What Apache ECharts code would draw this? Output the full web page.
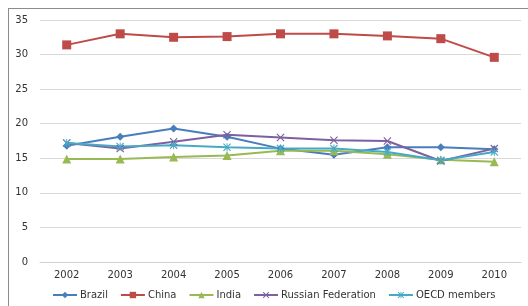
<!DOCTYPE html>
<html lang="en">
<head>
    <meta charset="UTF-8">
    <title>Line chart</title>
    <script src="https://cdn.jsdelivr.net/npm/echarts@6/dist/echarts.min.js"></script>
    <style>
        * { padding: 0; margin: 0; }
        html, body { width: 528px; height: 306px; background: #fff; }
        #chart { width: 528px; height: 306px; }
    </style>
</head>
<body>
    <div id="chart"></div>
<script>
    var years = ['2002', '2003', '2004', '2005', '2006', '2007', '2008', '2009', '2010'];
    var brazil = [16.8, 18.1, 19.3, 18.1, 16.4, 15.5, 16.6, 16.6, 16.3];
    var china = [31.4, 33.0, 32.5, 32.6, 33.0, 33.0, 32.7, 32.3, 29.6];
    var india = [14.9, 14.9, 15.2, 15.4, 16.1, 16.1, 15.6, 14.8, 14.5];
    var russia = [17.2, 16.4, 17.4, 18.4, 18.0, 17.6, 17.5, 14.6, 16.4];
    var oecd = [17.2, 16.7, 16.9, 16.6, 16.4, 16.4, 15.9, 14.7, 15.9];

    var xMark = 'path://M0,1 L1,0 L5,4 L9,0 L10,1 L6,5 L10,9 L9,10 L5,6 L1,10 L0,9 L4,5 Z';
    var starMark = 'path://M0,1 L1,0 L5,4 L9,0 L10,1 L6,5 L10,9 L9,10 L5,6 L1,10 L0,9 L4,5 Z M4.4,0 L5.6,0 L5.6,10 L4.4,10 Z';

    function makeSeries(name, data, color, symbol, size) {
        return {
            name: name,
            type: 'line',
            data: data,
            symbol: symbol,
            symbolSize: size,
            showAllSymbol: true,
            lineStyle: { color: color, width: 2 },
            itemStyle: { color: color },
            emphasis: { disabled: true }
        };
    }

    var chart = echarts.init(document.getElementById('chart'));
    chart.setOption({
        animation: false,
        textStyle: { fontFamily: 'DejaVu Sans' },
        grid: { left: 40, right: 7, top: 20, bottom: 44 },
        graphic: [
            { type: 'line', shape: { x1: 8, y1: 8.5, x2: 528, y2: 8.5 }, style: { stroke: '#8c8c8c', lineWidth: 1 } },
            { type: 'line', shape: { x1: 8.5, y1: 8, x2: 8.5, y2: 306 }, style: { stroke: '#8c8c8c', lineWidth: 1 } }
        ],
        legend: {
            top: 290,
            left: 52,
            width: 476,
            padding: 0,
            itemWidth: 24,
            itemHeight: 8,
            itemGap: 12,
            textStyle: { fontSize: 10, color: '#333', padding: [0, 0, 0, -2] },
            data: ['Brazil', 'China', 'India', 'Russian Federation', 'OECD members']
        },
        xAxis: {
            type: 'category',
            data: years,
            axisLine: { lineStyle: { color: '#d0d0d0' } },
            axisTick: { show: false },
            axisLabel: { color: '#333', fontSize: 10, margin: 8 }
        },
        yAxis: {
            type: 'value',
            min: 0,
            max: 35,
            interval: 5,
            axisLine: { show: false },
            axisTick: { show: false },
            axisLabel: { color: '#333', fontSize: 10, margin: 12 },
            splitLine: { lineStyle: { color: '#d9d9d9' } }
        },
        series: [
            makeSeries('Brazil', brazil, '#4a7ebb', 'diamond', 8),
            makeSeries('China', china, '#be4b48', 'rect', 9),
            makeSeries('India', india, '#98b954', 'triangle', 9),
            makeSeries('Russian Federation', russia, '#7d60a0', xMark, 8),
            makeSeries('OECD members', oecd, '#46aac5', starMark, 8)
        ]
    });
</script>
</body>
</html>
